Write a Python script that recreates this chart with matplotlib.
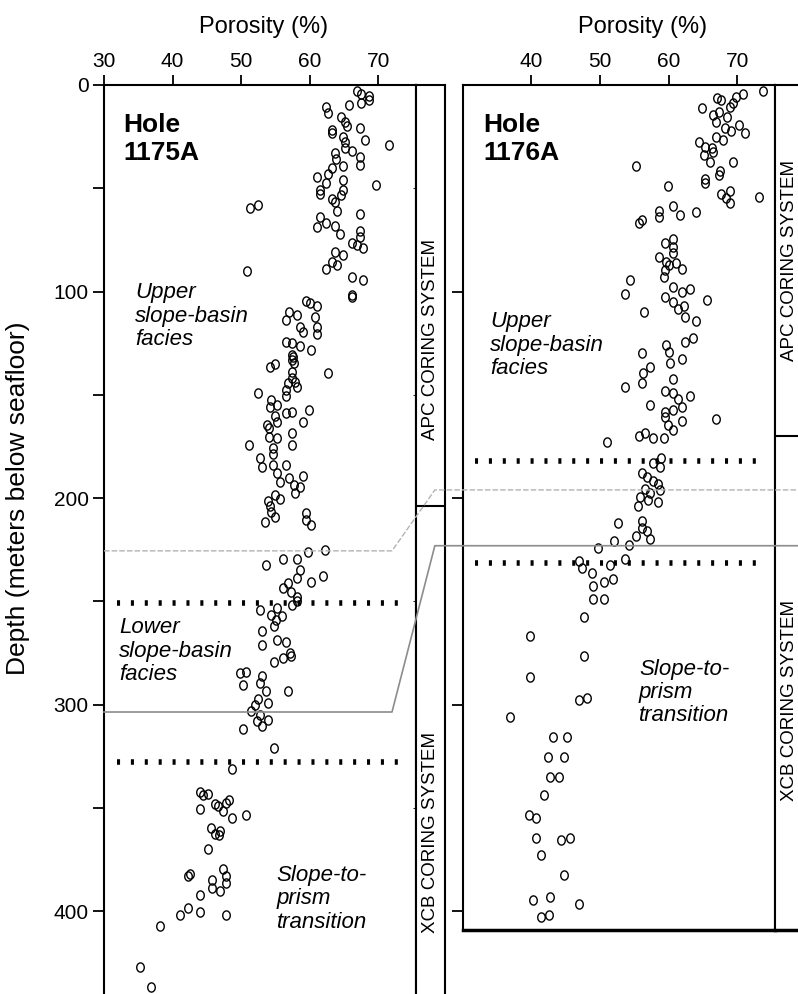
import numpy as np
import matplotlib
matplotlib.use("Agg")
import matplotlib.pyplot as plt
from matplotlib.path import Path
from matplotlib.lines import Line2D
from matplotlib.markers import MarkerStyle

plt.rcParams['font.family'] = ['Liberation Sans', 'DejaVu Sans']


# ---------------- Data ---------------- #
# Hole 1175A: porosity (%) and depth (mbsf)
por_1175 = [66.9, 67.5, 68.7, 68.6, 67.5, 65.7, 62.4, 62.7, 64.5, 65.2, 65.4, 63.2, 63.2, 67.3, 64.9,
            68.1, 65.2, 71.5, 65.2, 66.1, 63.7, 63.9, 67.3, 67.3, 63.2, 64.9, 62.7, 61.1, 64.9, 62.4,
            69.7, 61.5, 61.5, 64.9, 64.6, 63.2, 63.7, 64.0, 51.3, 52.4, 67.3, 61.5, 61.1, 62.4, 63.7,
            64.4, 67.3, 67.3, 66.1, 66.9, 67.7, 63.7, 64.9, 63.3, 64.0, 62.4, 66.1, 67.7, 66.1, 66.1,
            50.8, 59.5, 60.0, 61.1, 57.0, 58.2, 56.6, 60.8, 58.6, 61.1, 59.0, 61.1,
            56.6, 57.4, 58.6, 60.2, 57.4, 57.4, 54.2, 54.9, 57.4, 62.7, 57.4, 56.9, 56.5, 56.5, 52.4,
            54.4, 54.2, 55.2, 56.5, 57.4, 59.9, 59.0, 54.9, 55.2, 53.7, 54.1, 54.1, 55.2, 57.4, 57.4,
            51.2, 54.7, 54.7, 52.7, 53.1, 54.7, 56.5, 55.3, 55.7, 57.0, 59.0, 57.7, 58.6, 57.8, 54.9,
            55.7, 53.9, 54.2, 54.4, 53.5, 54.9, 59.4, 59.4, 60.2, 57.6, 57.9, 58.1, 57.7,
            62.3, 59.7, 56.1, 58.2, 53.6, 58.6, 61.9, 58.2, 60.2, 56.9, 56.1, 57.2, 58.2, 58.2, 57.4,
            52.7, 55.2, 54.4, 56.0, 55.1, 54.8, 53.1, 55.2, 56.5, 53.1, 57.1, 56.1, 57.3,
            54.8, 49.8, 50.7, 50.2, 53.1, 52.7, 53.6, 56.9, 52.4, 53.9, 52.0, 51.5, 52.7, 53.9, 52.3,
            53.1, 50.3, 54.8, 48.6, 44.0, 44.5, 45.2, 48.2, 47.8, 46.2, 46.6, 44.0, 47.3, 48.6, 50.7,
            45.6, 46.9, 46.2, 46.7, 45.2, 47.3, 42.5, 42.3, 45.7, 47.8, 47.8, 45.7, 46.9, 44.0, 42.3,
            41.1, 44.0, 47.8, 38.2, 35.3, 36.9]
dep_1175 = [2.7, 4.4, 5.2, 7.3, 8.5, 9.7, 10.8, 13.7, 15.3, 18.0, 19.7, 21.8, 23.0, 21.0, 25.0,
            26.6, 27.4, 29.2, 30.6, 31.8, 33.0, 35.8, 34.7, 38.7, 40.3, 39.0, 43.2, 44.4, 46.0, 47.3,
            48.5, 50.8, 52.9, 50.8, 53.2, 55.2, 56.8, 61.0, 59.4, 58.2, 62.4, 63.7, 68.9, 66.6, 68.1,
            72.1, 70.5, 73.4, 76.3, 77.3, 78.9, 80.6, 82.3, 85.5, 87.3, 88.9, 92.7, 94.4, 102.7, 101.6,
            90.0, 104.4, 105.3, 106.9, 109.7, 111.3, 113.7, 112.4, 116.9, 116.9, 119.4, 120.5,
            124.2, 125.0, 126.3, 128.2, 130.6, 133.0, 136.3, 135.0, 138.7, 139.5, 142.0, 144.4, 147.6, 150.3, 149.2,
            152.4, 156.0, 154.8, 158.9, 158.5, 157.3, 162.9, 160.2, 162.9, 164.5, 166.1, 170.2, 171.0, 168.5, 174.2,
            174.2, 175.8, 178.5, 180.6, 184.7, 183.9, 183.9, 187.9, 192.0, 190.3, 189.2, 193.5, 194.4, 197.6, 198.4,
            200.5, 201.6, 204.0, 206.5, 211.3, 208.9, 207.3, 210.8, 212.9, 131.8, 144.0, 146.0, 134.5,
            225.3, 226.1, 229.5, 229.5, 232.4, 234.7, 237.9, 238.7, 240.8, 241.1, 243.5, 245.6, 247.6, 250.0, 251.6,
            254.0, 253.2, 256.5, 257.0, 258.9, 262.1, 264.5, 268.5, 269.8, 271.0, 275.0, 277.4, 276.5,
            279.5, 284.7, 283.9, 290.3, 286.3, 289.5, 293.5, 293.5, 297.3, 298.9, 300.0, 303.2, 304.8, 307.3, 308.0,
            310.2, 311.8, 321.1, 331.1, 342.3, 343.5, 343.1, 346.0, 347.6, 347.9, 349.2, 350.5, 351.6, 354.8, 353.2,
            359.7, 361.3, 362.4, 362.9, 369.8, 379.5, 382.0, 383.1, 384.7, 383.1, 386.3, 388.7, 390.3, 391.9, 398.4,
            401.6, 400.5, 401.6, 407.3, 426.9, 436.7]

# Hole 1176A
por_1176 = [73.7, 70.8, 69.8, 69.4, 67.0, 67.7, 68.9, 64.9, 66.5, 67.4, 68.5, 66.9, 68.2, 69.1, 70.3,
            71.1, 66.9, 67.9, 64.5, 65.3, 66.3, 66.5, 65.1, 66.1, 67.5, 67.4, 69.4, 55.3, 65.3, 65.3,
            59.9, 67.7, 69.0, 68.4, 69.0, 73.2, 60.7, 61.6, 64.0, 58.6, 58.6, 56.1, 55.7, 59.5, 60.7,
            60.7, 60.7, 58.6, 59.6, 60.1, 61.1, 61.9, 59.5, 59.3, 54.4, 53.6, 60.7, 61.9, 63.1, 59.5,
            60.7, 61.4, 62.3, 65.6, 56.4, 62.4, 64.0,
            63.6, 62.4, 59.7, 60.0, 60.2, 56.1, 61.9, 57.3, 56.3, 56.1, 53.6, 60.7, 59.5, 60.7, 61.4,
            63.1, 57.3, 61.9, 60.7, 59.5, 59.5, 59.9, 61.9, 60.7, 66.9, 55.7, 56.5, 57.7, 59.4, 51.1,
            58.9, 57.8, 58.8, 56.1, 56.8, 57.7, 58.5, 58.8, 56.5, 57.3, 55.9, 57.0, 58.5, 55.6, 56.1,
            52.7, 56.1, 55.2, 56.9, 57.3, 52.0, 54.3, 49.8, 53.6, 51.5, 47.0, 47.4, 48.8, 49.0, 50.6,
            51.9, 49.0, 50.6, 47.7, 39.8, 47.7,
            39.8, 47.0, 48.1, 36.9, 43.2, 45.2, 42.4, 44.8, 42.8, 44.0, 41.9, 39.7, 40.7, 40.7, 44.3,
            45.7, 41.4, 44.8, 40.2, 42.7, 46.9, 41.4, 42.6]
dep_1176 = [2.7, 4.4, 5.6, 8.5, 6.5, 7.3, 10.5, 11.3, 14.5, 12.9, 15.3, 17.7, 21.0, 22.1, 19.4,
            23.4, 25.0, 26.6, 27.4, 29.8, 30.6, 32.3, 33.9, 37.1, 41.5, 43.5, 37.4, 39.0, 45.6, 47.6,
            48.7, 52.7, 51.1, 54.8, 57.3, 54.4, 58.5, 62.9, 61.3, 60.8, 64.0, 65.3, 66.9, 76.3, 74.7,
            78.2, 81.5, 83.1, 85.5, 87.1, 86.0, 89.2, 89.5, 92.7, 94.4, 101.1, 97.6, 100.0, 98.9, 102.4,
            104.8, 108.5, 106.9, 104.0, 109.7, 112.4, 114.0,
            122.6, 124.2, 125.8, 129.4, 134.7, 129.5, 132.7, 136.3, 139.5, 144.4, 146.3, 142.4, 147.9, 149.2, 152.1,
            150.5, 154.8, 155.9, 157.3, 158.5, 160.8, 164.5, 162.4, 166.9, 161.8, 169.8, 168.5, 171.0, 171.0, 172.6,
            180.6, 182.8, 184.7, 187.9, 189.5, 191.9, 193.0, 195.9, 195.6, 197.6, 199.2, 200.8, 201.6, 204.0, 211.0,
            211.9, 214.5, 218.5, 216.0, 219.8, 220.8, 222.6, 224.2, 229.5, 232.3, 230.6, 234.0, 236.3, 242.4, 240.8,
            239.2, 248.9, 248.9, 257.3, 266.6, 276.6,
            286.3, 297.6, 296.8, 305.9, 315.8, 315.8, 325.5, 325.5, 335.0, 335.0, 343.5, 353.2, 354.8, 364.5, 365.6,
            364.5, 372.6, 382.3, 394.4, 393.1, 396.3, 402.9, 401.6]

units_1175 = [250.5, 327.5]      # dotted facies boundaries
units_1176 = [182.0, 231.5]
apc_xcb_1175 = 204.0              # APC -> XCB change
apc_xcb_1176 = 170.0
corr_1175 = [225.5, 303.5]        # correlated horizons
corr_1176 = [196.0, 223.0]

por_ticks_1175 = [30, 40, 50, 60, 70]
por_ticks_1176 = [40, 50, 60, 70]
depth_major = [0, 100, 200, 300, 400]
depth_minor = [50, 150, 250, 350]


# ---------------- Layout ---------------- #
W, H = 798, 994
fig = plt.figure(figsize=(W / 100, H / 100), dpi=100)


def box(x0, y0, x1, y1):
    return [x0 / W, 1 - y1 / H, (x1 - x0) / W, (y1 - y0) / H]


ax1 = fig.add_axes(box(104, 85, 416, 994))
s1 = fig.add_axes(box(416, 85, 445, 994), sharey=ax1)
ax2 = fig.add_axes(box(462.5, 85, 775, 930))
s2 = fig.add_axes(box(775, 85, 804, 930), sharey=ax2)

ax1.set_ylim(440, 0)
ax2.set_ylim(409, 0)

# open, slightly tall circles
t = np.linspace(0, 2 * np.pi, 60)
ell = MarkerStyle(Path(np.column_stack([0.82 * np.cos(t), np.sin(t)]), closed=True))

for ax, por, dep, ticks in [(ax1, por_1175, dep_1175, por_ticks_1175),
                            (ax2, por_1176, dep_1176, por_ticks_1176)]:
    ax.plot(por, dep, linestyle='none', marker=ell, ms=6.6, mfc='none', mec='black', mew=1.0)
    ax.set_xlim(30, 75.5)
    ax.xaxis.tick_top()
    ax.set_xticks(ticks)
    ax.tick_params(axis='x', direction='out', length=7, width=1.3, labelsize=15, pad=3)
    ax.tick_params(axis='y', which='both', direction='out', length=8, width=1.3, labelsize=15, pad=3)
    for sp in ax.spines.values():
        sp.set_linewidth(1.5)

ax1.set_yticks(depth_major)
ax1.set_yticks(depth_minor, minor=True)
ax1.spines['bottom'].set_visible(False)
ax2.set_yticks(depth_major[1:])
ax2.set_yticklabels([])
ax2.spines['bottom'].set_linewidth(2.5)

for s, change, bottom_lw in [(s1, apc_xcb_1175, 0), (s2, apc_xcb_1176, 2.5)]:
    s.set_xlim(0, 1)
    s.tick_params(left=False, bottom=False, labelleft=False, labelbottom=False)
    for sp in s.spines.values():
        sp.set_linewidth(1.5)
    if bottom_lw:
        s.spines['bottom'].set_linewidth(bottom_lw)
    else:
        s.spines['bottom'].set_visible(False)
    s.axhline(change, color='black', lw=1.5)

strip_kw = dict(rotation=90, ha='center', va='center', fontsize=13.5)
s1.text(0.5, 123, "APC CORING SYSTEM", **strip_kw)
s1.text(0.5, 362, "XCB CORING SYSTEM", **strip_kw)
s2.text(0.5, 85, "APC CORING SYSTEM", **strip_kw)
s2.text(0.5, 298, "XCB CORING SYSTEM", **strip_kw)

# dotted facies boundaries
dot = (0, (0.55, 1.95))
ax1.hlines(units_1175, 31.9, 73.7, colors='black', lw=4, linestyles=[dot])
ax2.hlines(units_1176, 31.8, 73.7, colors='black', lw=4, linestyles=[dot])

# labels
hole_kw = dict(fontsize=19, fontweight='bold', ha='left', va='center', linespacing=1.2)
ax1.text(32.8, 26, "Hole\n1175A", **hole_kw)
ax2.text(33.0, 26, "Hole\n1176A", **hole_kw)

fac_kw = dict(fontsize=16, style='italic', ha='left', va='center', linespacing=1.15)
ax1.text(34.5, 112, "Upper\nslope-basin\nfacies", **fac_kw)
ax1.text(32.2, 274, "Lower\nslope-basin\nfacies", **fac_kw)
ax1.text(55.2, 394, "Slope-to-\nprism\ntransition", **fac_kw)
ax2.text(34.0, 126, "Upper\nslope-basin\nfacies", **fac_kw)
ax2.text(55.7, 294, "Slope-to-\nprism\ntransition", **fac_kw)

fig.text(264 / W, 1 - 27 / H, "Porosity (%)", ha='center', va='center', fontsize=17)
fig.text(643 / W, 1 - 27 / H, "Porosity (%)", ha='center', va='center', fontsize=17)
fig.text(18 / W, 1 - 498 / H, "Depth (meters below seafloor)", rotation=90,
         ha='center', va='center', fontsize=19)

# correlation lines between the holes
inv = fig.transFigure.inverted()
styles = [dict(color='0.7', lw=1.0, ls=(0, (4, 1.5))), dict(color='0.55', lw=1.2, ls='-')]
for dl, dr, st in zip(corr_1175, corr_1176, styles):
    p0 = ax1.transData.transform((30, dl))
    p1 = ax1.transData.transform((72, dl))
    yr = ax2.transData.transform((40, dr))[1]
    xs = s1.transAxes.transform((0.65, 0))[0]
    pts = inv.transform([p0, p1, (xs, yr), (W, yr)])
    fig.add_artist(Line2D(pts[:, 0], pts[:, 1], zorder=1, **st))

fig.savefig("out.png", dpi=100)
